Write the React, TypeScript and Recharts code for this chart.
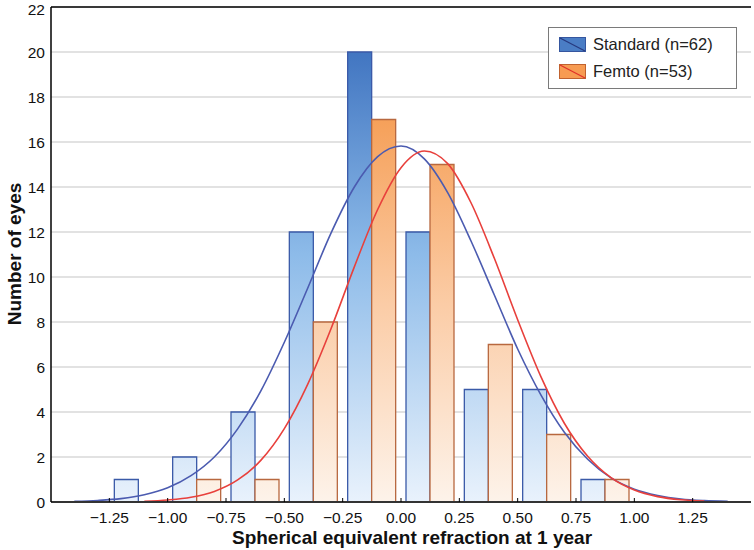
import React from "react";
import {
  ComposedChart,
  Bar,
  Line,
  XAxis,
  YAxis,
  CartesianGrid,
  ReferenceLine,
  Label,
} from "recharts";

const FONT = '"Liberation Sans", Arial, sans-serif';

// histogram bins (0.25 wide), value = bin centre
const BIN_CENTERS = [-1.125, -0.875, -0.625, -0.375, -0.125, 0.125, 0.375, 0.625, 0.875];
const STANDARD_COUNTS = [1, 2, 4, 12, 20, 12, 5, 5, 1];
const FEMTO_COUNTS = [0, 1, 1, 8, 17, 15, 7, 3, 1];

// fitted curves
const STD_CURVE_X = [
  -1.4, -1.3, -1.2, -1.1, -1.0, -0.9, -0.8, -0.7, -0.6, -0.5, -0.4, -0.3, -0.2, -0.1, 0,
  0.1, 0.2, 0.3, 0.4, 0.5, 0.6, 0.7, 0.8, 0.9, 1.0, 1.1, 1.2, 1.3, 1.4,
];
const STD_CURVE_Y = [
  0.03, 0.07, 0.15, 0.32, 0.63, 1.17, 2.0, 3.25, 4.95, 7.1, 9.5, 11.95, 14.0, 15.35, 15.82,
  15.25, 13.75, 11.6, 9.2, 6.8, 4.75, 3.1, 1.9, 1.07, 0.57, 0.29, 0.13, 0.06, 0.03,
];
const FEMTO_CURVE_X = [
  -1.1, -1.0, -0.9, -0.8, -0.7, -0.6, -0.5, -0.4, -0.3, -0.2, -0.1, 0, 0.1,
  0.2, 0.3, 0.4, 0.5, 0.6, 0.7, 0.8, 0.9, 1.0, 1.1, 1.2, 1.3,
];
const FEMTO_CURVE_Y = [
  0.03, 0.09, 0.21, 0.47, 0.98, 1.86, 3.26, 5.23, 7.7, 10.45, 13.0, 14.86, 15.6,
  15.04, 13.3, 10.83, 8.1, 5.56, 3.5, 2.03, 1.08, 0.53, 0.24, 0.1, 0.04,
];

const X_TICKS = [-1.25, -1, -0.75, -0.5, -0.25, 0, 0.25, 0.5, 0.75, 1, 1.25];
const Y_TICKS = [0, 2, 4, 6, 8, 10, 12, 14, 16, 18, 20, 22];
const Y_MAX = 22;

const SERIES_NAMES = ["Standard (n=62)", "Femto (n=53)"];
const LEGEND_ICONS = [
  { fill: "#4a7dc5", border: "#35569f", slash: "#27397f" },
  { fill: "#f79b52", border: "#c0622f", slash: "#e0302a" },
];

const barData = BIN_CENTERS.map((bin, i) => ({
  bin,
  standard: STANDARD_COUNTS[i],
  femto: FEMTO_COUNTS[i],
}));
const stdCurve = STD_CURVE_X.map((x, i) => ({ x, y: STD_CURVE_Y[i] }));
const femtoCurve = FEMTO_CURVE_X.map((x, i) => ({ x, y: FEMTO_CURVE_Y[i] }));

const fmtX = (v: number) => (v < 0 ? "\u2212" + Math.abs(v).toFixed(2) : v.toFixed(2));

function LegendBox() {
  return (
    <div
      style={{
        position: "absolute",
        left: 548,
        top: 27,
        width: 177,
        border: "1px solid #7a7a7a",
        background: "#fff",
        padding: "3px 0 3px 10px",
        fontFamily: FONT,
        fontSize: 16.5,
        color: "#222",
      }}
    >
      {SERIES_NAMES.map((name, i) => {
        const ic = LEGEND_ICONS[i];
        return (
          <div key={name} style={{ display: "flex", alignItems: "center", height: 27 }}>
            <svg width={27} height={15} style={{ marginRight: 7 }}>
              <rect x={0.5} y={0.5} width={26} height={14} fill={ic.fill} stroke={ic.border} />
              <line x1={1} y1={1} x2={26} y2={14} stroke={ic.slash} strokeWidth={1.2} />
            </svg>
            <span>{name}</span>
          </div>
        );
      })}
    </div>
  );
}

export default function App() {
  return (
    <div style={{ position: "absolute", left: 0, top: 0, width: 754, height: 550, background: "#fff" }}>
      <ComposedChart
        width={754}
        height={550}
        data={barData}
        margin={{ top: 7, right: 3, bottom: 0, left: 0 }}
        barGap={0}
        style={{ fontFamily: FONT }}
      >
        <defs>
          <linearGradient id="gradBlue" gradientUnits="userSpaceOnUse" x1="0" y1="7" x2="0" y2="502">
            <stop offset="0" stopColor="#2f62b2" />
            <stop offset="0.1" stopColor="#4377c2" />
            <stop offset="0.5" stopColor="#8dbbe9" />
            <stop offset="1" stopColor="#e9f2fc" />
          </linearGradient>
          <linearGradient id="gradOrange" gradientUnits="userSpaceOnUse" x1="0" y1="7" x2="0" y2="502">
            <stop offset="0" stopColor="#f08432" />
            <stop offset="0.25" stopColor="#f6a35e" />
            <stop offset="0.6" stopColor="#fbcca6" />
            <stop offset="1" stopColor="#fdf3ea" />
          </linearGradient>
        </defs>
        <CartesianGrid xAxisId="bar" vertical={false} stroke="#d9d9d9" strokeWidth={1.5} />
        <XAxis
          xAxisId="bar"
          dataKey="bin"
          type="number"
          domain={[-1.5, 1.5]}
          ticks={X_TICKS}
          tickFormatter={fmtX}
          height={48}
          tickSize={-4}
          tickMargin={14}
          tick={{ fontSize: 15.5, fill: "#111" }}
          tickLine={{ stroke: "#000" }}
          axisLine={{ stroke: "#333", strokeWidth: 2 }}
        >
          <Label
            content={() => (
              <text x={412} y={544} textAnchor="middle" fontSize={19} fontWeight="bold" fill="#111" fontFamily={FONT}>
                Spherical equivalent refraction at 1 year
              </text>
            )}
          />
        </XAxis>
        <XAxis xAxisId="curve" dataKey="x" type="number" domain={[-1.5, 1.5]} hide />
        <YAxis
          domain={[0, Y_MAX]}
          ticks={Y_TICKS}
          width={51}
          tickSize={0}
          tickMargin={6}
          tickLine={false}
          tick={{ fontSize: 15.5, fill: "#111" }}
          axisLine={{ stroke: "#000", strokeWidth: 1.5 }}
        >
          <Label
            content={() => (
              <text
                x={14}
                y={254}
                transform="rotate(-90 14 254)"
                textAnchor="middle"
                dominantBaseline="central"
                fontSize={19}
                fontWeight="bold"
                fill="#111"
                fontFamily={FONT}
              >
                Number of eyes
              </text>
            )}
          />
        </YAxis>
        <YAxis
          yAxisId="right"
          orientation="right"
          domain={[0, Y_MAX]}
          ticks={Y_TICKS}
          width={0}
          tickSize={-4}
          tick={false}
          tickLine={{ stroke: "#000" }}
          axisLine={{ stroke: "#000", strokeWidth: 1.5 }}
        />
        <ReferenceLine xAxisId="bar" y={Y_MAX} stroke="#000" strokeWidth={1.5} ifOverflow="visible" />
        <Bar
          xAxisId="bar"
          dataKey="standard"
          name={SERIES_NAMES[0]}
          fill="url(#gradBlue)"
          stroke="#3a5aa8"
          strokeWidth={1.3}
          barSize={24}
          isAnimationActive={false}
        />
        <Bar
          xAxisId="bar"
          dataKey="femto"
          name={SERIES_NAMES[1]}
          fill="url(#gradOrange)"
          stroke="#b8683f"
          strokeWidth={1.3}
          barSize={24}
          isAnimationActive={false}
        />
        <Line
          xAxisId="curve"
          data={stdCurve}
          dataKey="y"
          type="monotone"
          stroke="#4b5bb0"
          strokeWidth={1.6}
          dot={false}
          isAnimationActive={false}
        />
        <Line
          xAxisId="curve"
          data={femtoCurve}
          dataKey="y"
          type="monotone"
          stroke="#e8403c"
          strokeWidth={1.6}
          dot={false}
          isAnimationActive={false}
        />
      </ComposedChart>
      <LegendBox />
    </div>
  );
}
